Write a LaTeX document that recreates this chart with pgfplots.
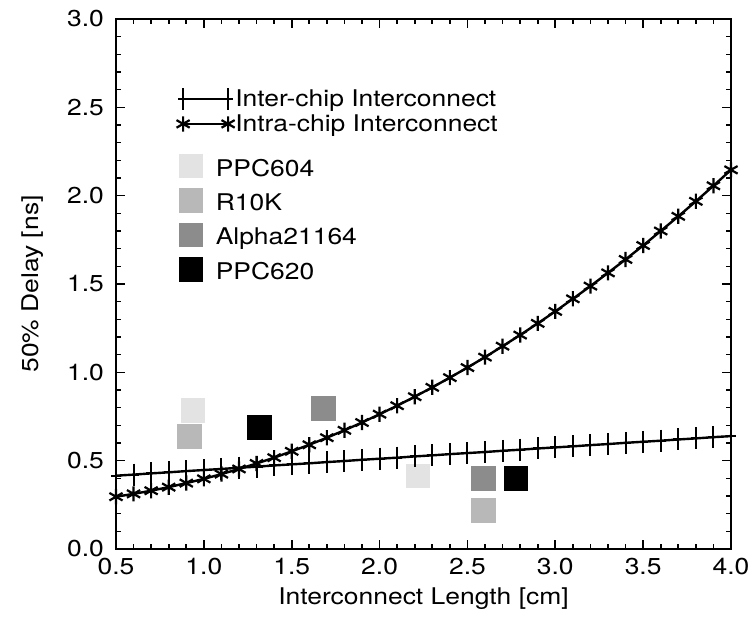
\documentclass[border=0pt]{standalone}
\usepackage{fontspec}
\setmainfont{TeX Gyre Heros}[FakeStretch=1.15]
\usepackage{pgfplots}
\pgfplotsset{compat=1.18}

\pgfplotsset{
  box/.style={
    scale only axis, width=307.5pt, height=265pt,
    xmin=0.5, xmax=4.0, ymin=0, ymax=3.0,
  },
  chip/.style={only marks, color=#1, mark=square*, mark size=5.9pt,
    mark options={solid, draw=#1, fill=#1, line width=0.2pt}},
}

\begin{document}
\begin{tikzpicture}[font=\fontsize{11.5}{13}\selectfont]
% axis with ticks, labels and the processor squares
\begin{axis}[box,
  xtick={0.5,1,1.5,2,2.5,3,3.5,4},
  ytick={0,0.5,1,1.5,2,2.5,3},
  minor tick num=4,
  major tick length=4.3pt, minor tick length=2.5pt,
  tick align=inside,
  axis line style={line width=0.9pt},
  every tick/.style={black, line width=0.8pt},
  /pgf/number format/assume math mode=true,
  xticklabel style={/pgf/number format/fixed, /pgf/number format/fixed zerofill,
    /pgf/number format/precision=1, yshift=-1pt},
  yticklabel style={/pgf/number format/fixed, /pgf/number format/fixed zerofill,
    /pgf/number format/precision=1, xshift=-2.5pt},
  xlabel={Interconnect Length [cm]},
  ylabel={50\% Delay [ns]},
  xlabel style={at={(axis description cs:0.5,-0.094)}, anchor=center},
  ylabel style={at={(axis description cs:-0.135,0.5)}, anchor=center},
  legend style={at={(axis description cs:0.1024,0.7453)}, anchor=north west,
    draw=none, fill=none, inner sep=0pt, outer sep=0pt,
    row sep=5.4pt, column sep=6.6pt,
    nodes={inner sep=0pt, text height=10.3pt, text depth=0pt}},
  legend cell align=left,
  legend image code/.code={\draw[#1] plot coordinates {(0pt,0pt)};},
]
\addplot[chip=black!11] coordinates {(0.936,0.787) (2.217,0.416)};
\addlegendentry{PPC604}
\addplot[chip=black!28] coordinates {(0.917,0.640) (2.590,0.218)};
\addlegendentry{R10K}
\addplot[chip=black!45] coordinates {(1.680,0.798) (2.590,0.400)};
\addlegendentry{Alpha21164}
\addplot[chip=black] coordinates {(1.316,0.688) (2.774,0.400)};
\addlegendentry{PPC620}
\end{axis}

% interconnect curves on top
\begin{axis}[box, hide axis,
  legend style={at={(axis description cs:0.0984,0.8696)}, anchor=north west,
    draw=none, fill=none, inner sep=0pt, outer sep=0pt,
    row sep=1.8pt, column sep=0.3pt,
    nodes={inner sep=0pt, text height=9pt, text depth=1.2pt}},
  legend cell align=left,
  legend image code/.code={\draw[#1, mark repeat=1] plot coordinates {(0pt,0pt) (22.5pt,0pt)};},
]
\addplot[black, line width=1.2pt, mark=+, mark size=2.5pt,
  mark options={yscale=2.2, line width=1pt}] coordinates {
(0.5,0.415) (0.6,0.421) (0.7,0.428) (0.8,0.434) (0.9,0.441) (1.0,0.447)
(1.1,0.453) (1.2,0.460) (1.3,0.466) (1.4,0.473) (1.5,0.479) (1.6,0.485)
(1.7,0.492) (1.8,0.498) (1.9,0.505) (2.0,0.511) (2.1,0.517) (2.2,0.524)
(2.3,0.530) (2.4,0.537) (2.5,0.543) (2.6,0.549) (2.7,0.556) (2.8,0.562)
(2.9,0.569) (3.0,0.575) (3.1,0.581) (3.2,0.588) (3.3,0.594) (3.4,0.601)
(3.5,0.607) (3.6,0.613) (3.7,0.620) (3.8,0.626) (3.9,0.633) (4.0,0.639)
};
\addlegendentry{Inter-chip Interconnect}
\addplot[black, line width=1.2pt, mark=asterisk, mark size=3.8pt,
  mark options={line width=1.1pt}] coordinates {
(0.5,0.296) (0.6,0.312) (0.7,0.330) (0.8,0.350) (0.9,0.373) (1.0,0.397)
(1.1,0.424) (1.2,0.453) (1.3,0.484) (1.4,0.517) (1.5,0.553) (1.6,0.590)
(1.7,0.630) (1.8,0.672) (1.9,0.716) (2.0,0.763) (2.1,0.811) (2.2,0.862)
(2.3,0.915) (2.4,0.970) (2.5,1.027) (2.6,1.086) (2.7,1.148) (2.8,1.211)
(2.9,1.277) (3.0,1.345) (3.1,1.416) (3.2,1.488) (3.3,1.563) (3.4,1.639)
(3.5,1.718) (3.6,1.800) (3.7,1.883) (3.8,1.968) (3.9,2.056) (4.0,2.146)
};
\addlegendentry{Intra-chip Interconnect}
\end{axis}
\pgfresetboundingbox
\path (-58pt,-35pt) rectangle (318.5pt,274.5pt);
\end{tikzpicture}
\end{document}
